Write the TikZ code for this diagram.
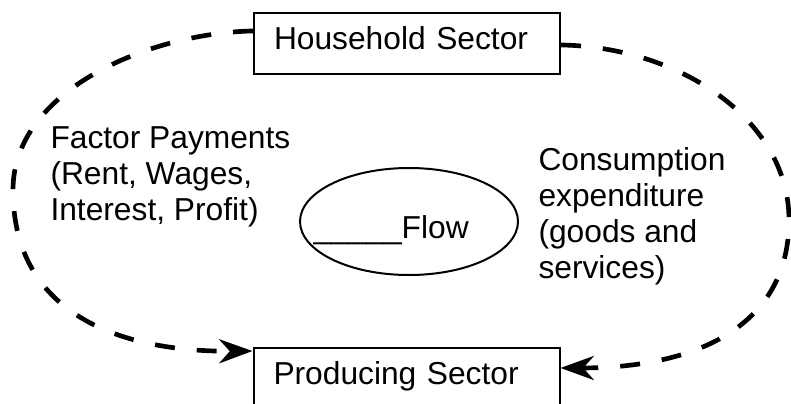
\documentclass[tikz,border=0pt]{standalone}
\usepackage{fontspec}
\setmainfont{Liberation Sans}
\usetikzlibrary{shapes.geometric,arrows.meta}

\tikzset{every picture/.style={line width=0.75pt}}
\tikzset{
  sector/.style={draw, rectangle, line width=1.5pt, minimum width=229.5pt, minimum height=45.75pt,
    text width=199.5pt, inner xsep=15pt, inner ysep=0pt, align=left, text height=17pt, text depth=7.75pt},
  flowpath/.style={line width=3.5pt, dash pattern=on 15pt off 16.5pt},
  flowtip/.style={-{Stealth[length=25pt,width=18pt,inset=8pt]}},
  sidetext/.style={align=left, inner sep=0pt, anchor=north west},
}

\begin{document}
\begin{tikzpicture}[x=0.75pt,y=0.75pt,yscale=-1,xscale=1,font=\fontsize{23.8}{27}\selectfont]
\useasboundingbox (0,0) rectangle (791,403);

\node[sector] (hh) at (407,43.5) {Household Sector};
\node[sector] (prod) at (406.5,378.5) {Producing Sector};

\node[ellipse, draw, line width=1.5pt, minimum width=163.5pt, minimum height=80.25pt, inner sep=0pt] (flow) at (409,221.5) {};
\node[anchor=base west, inner sep=0pt] (flowtxt) at (313,238) {\_\_\_\_\_Flow};

\node[sidetext] (factor) at (50,126) {Factor Payments\\(Rent, Wages,\\Interest, Profit)};
\node[sidetext] (consum) at (538,147) {Consumption\\expenditure\\(goods and\\services)};

% money flow round the left, goods flow round the right
\draw[flowpath, flowtip] ([yshift=-9.4pt]hh.west) .. controls (150,33) and (13,90) .. (13,190)
  .. controls (13,320) and (130,352) .. ([yshift=3pt]prod.north west);
\draw[flowpath, flowtip] ([yshift=1.1pt]hh.east) .. controls (680,47) and (789,120) .. (789,220)
  .. controls (789,330) and (690,368) .. ([yshift=-7.9pt]prod.east);

\end{tikzpicture}
\end{document}
